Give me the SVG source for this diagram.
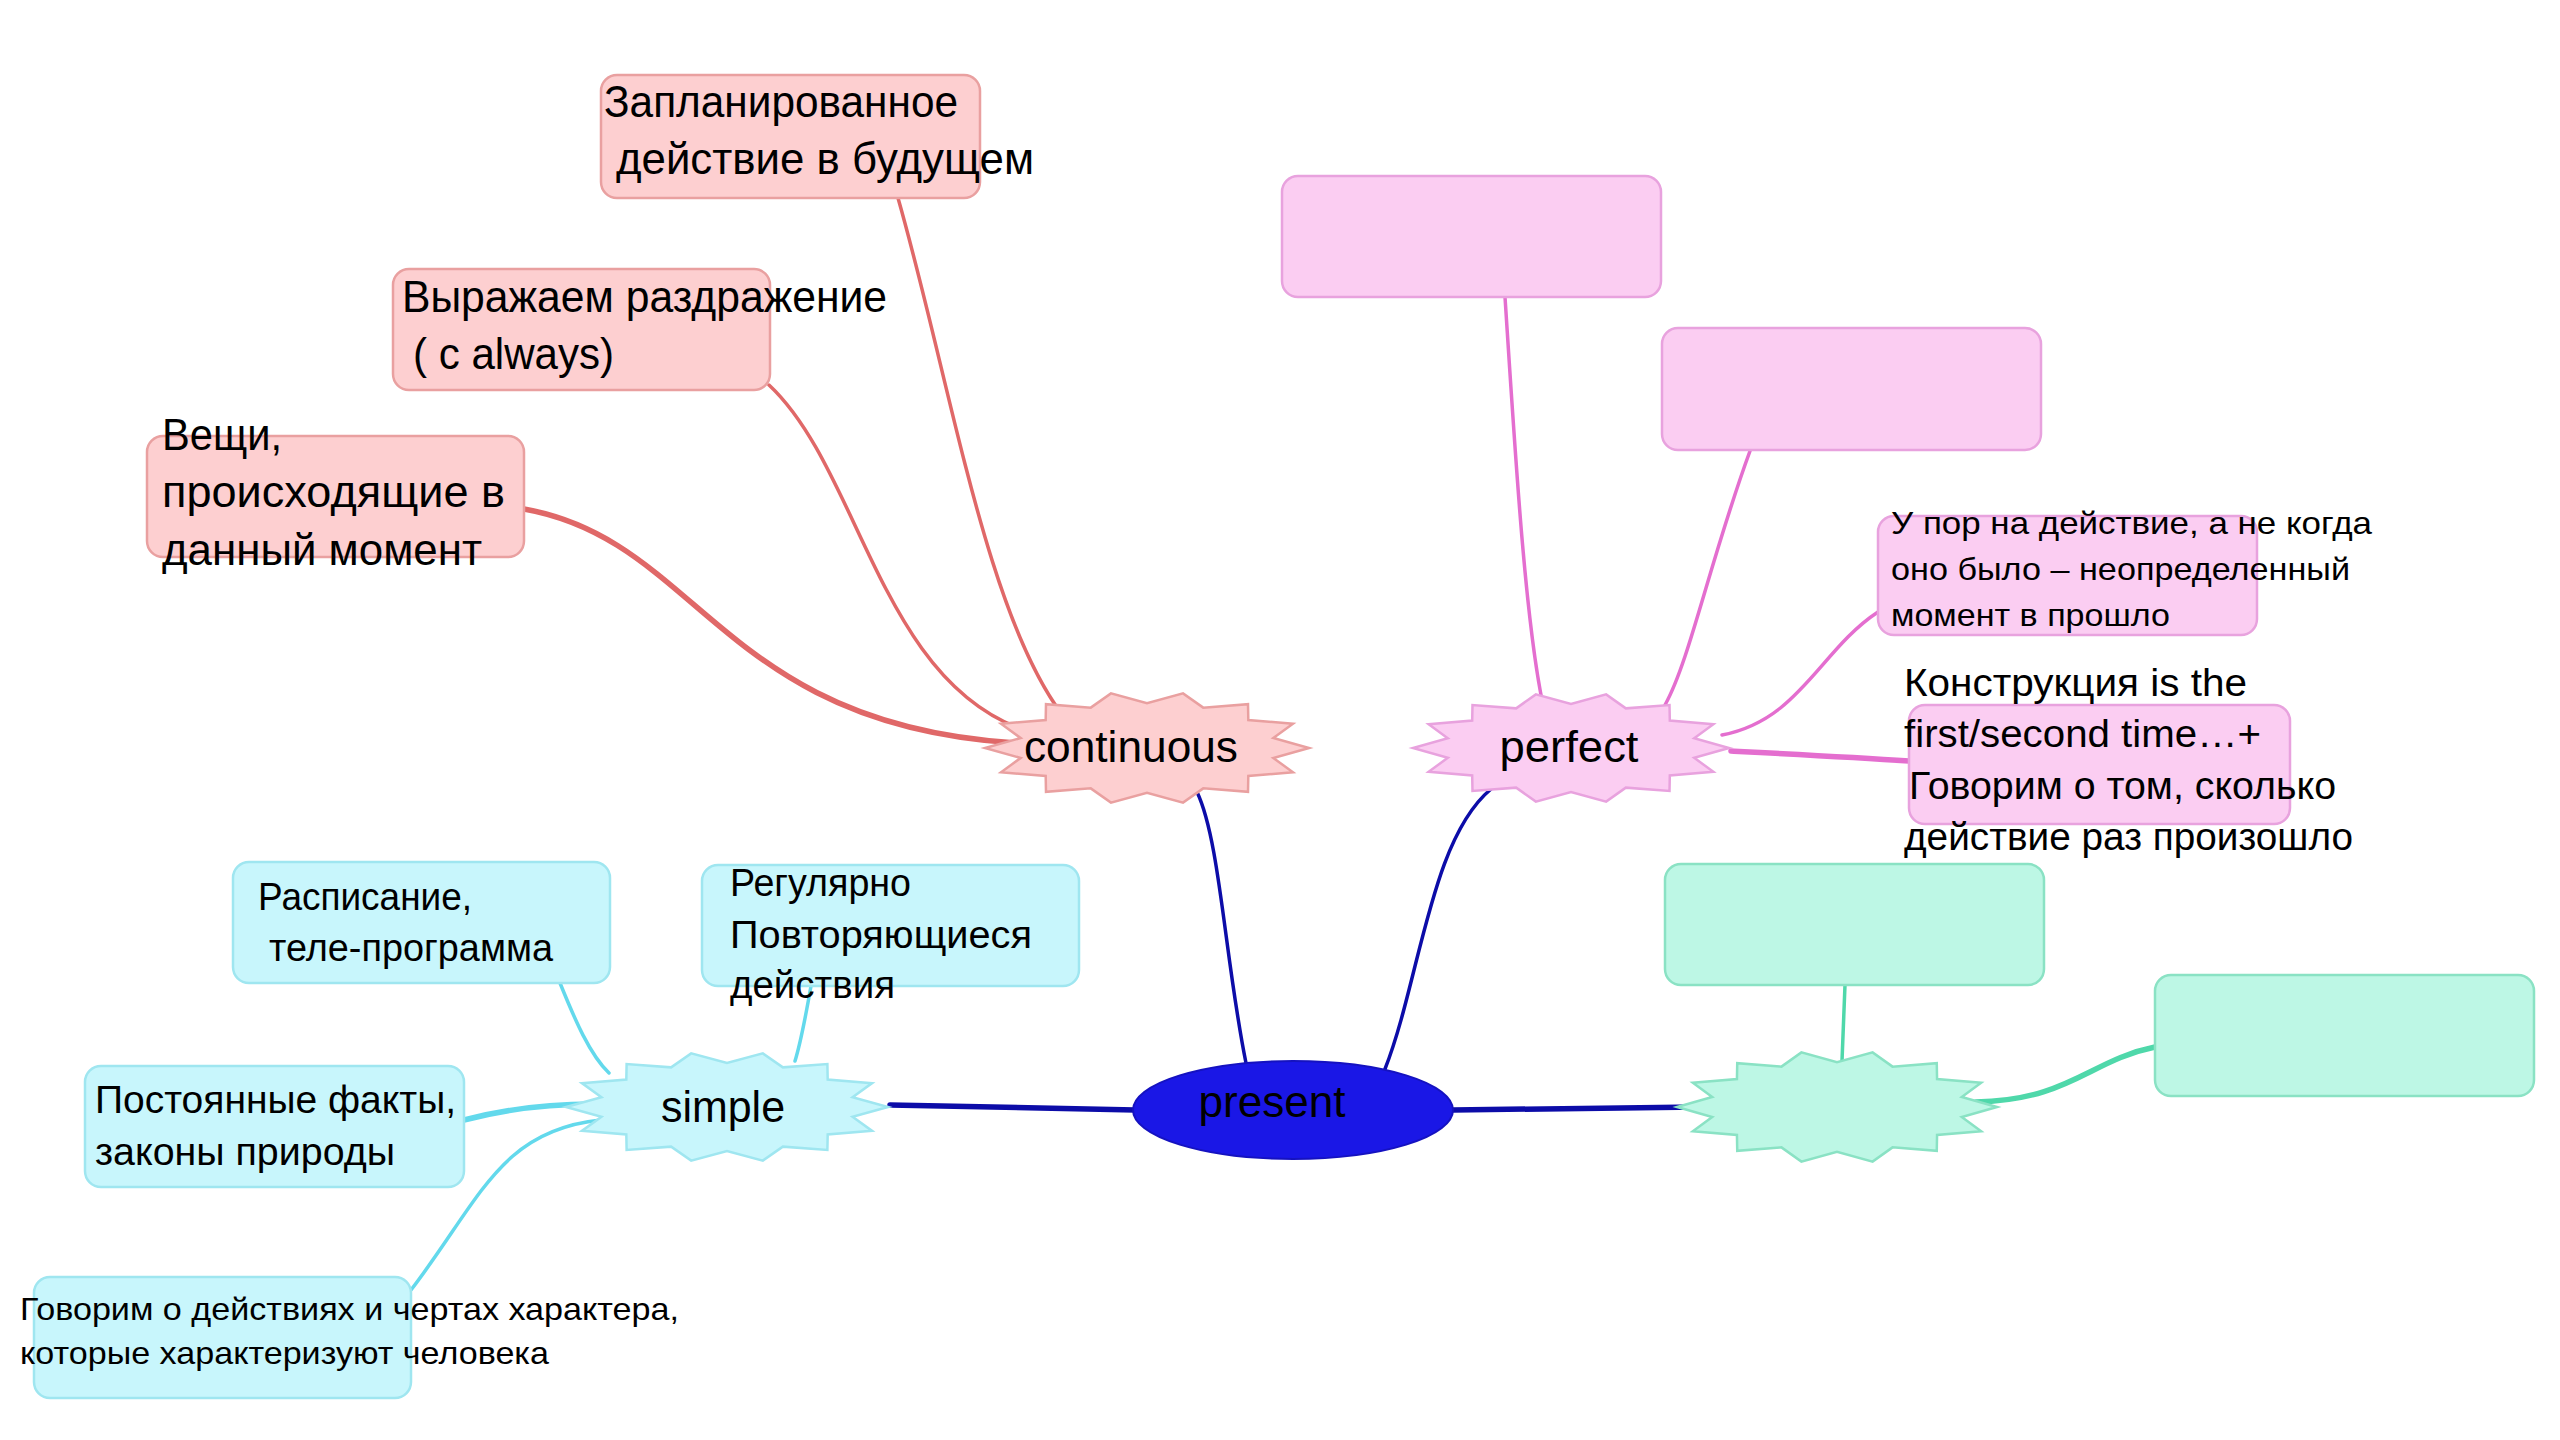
<svg xmlns="http://www.w3.org/2000/svg" xmlns:xlink="http://www.w3.org/1999/xlink" width="2560" height="1440" viewBox="0 0 2560 1440">
<style>
text{font-family:"Liberation Sans","DejaVu Sans",sans-serif;fill:#000}
.t44{font-size:44px}
.t38{font-size:38px}
.t32{font-size:32px}
.lbl{font-size:44px;text-anchor:middle}
.c{fill:none;stroke-linecap:round}
.cp{stroke:#e06868;stroke-width:3.5}
.cm{stroke:#e46ecf;stroke-width:3.5}
.cb{stroke:#0c0ca8;stroke-width:3.5}
.cc{stroke:#63d9ec;stroke-width:3.5}
.cg{stroke:#4fd8aa;stroke-width:3.5}
.thick{stroke-width:5.5}
.bp{fill:#fdcfd0;stroke:#e9a0a0;stroke-width:2.5}
.bm{fill:#fbcdf2;stroke:#e8a2de;stroke-width:2.5}
.bc{fill:#c8f6fc;stroke:#9fe6f0;stroke-width:2.5}
.bg{fill:#bdf7e5;stroke:#8ae2c4;stroke-width:2.5}
</style>
<defs>
<polygon id="star" vector-effect="non-scaling-stroke" points="1,0 0.7799,0.1780 0.9010,0.4339 0.6254,0.4988 0.6235,0.7818 0.3471,0.7208 0.2225,0.9749 0,0.8 -0.2225,0.9749 -0.3471,0.7208 -0.6235,0.7818 -0.6254,0.4988 -0.9010,0.4339 -0.7799,0.1780 -1,0 -0.7799,-0.1780 -0.9010,-0.4339 -0.6254,-0.4988 -0.6235,-0.7818 -0.3471,-0.7208 -0.2225,-0.9749 0,-0.8 0.2225,-0.9749 0.3471,-0.7208 0.6235,-0.7818 0.6254,-0.4988 0.9010,-0.4339 0.7799,-0.1780"/>
</defs>
<rect width="2560" height="1440" fill="#fff"/>
<g id="connectors">
<path class="c cp" d="M898,198 C950,380 985,610 1061,713"/>
<path class="c cp" d="M769,385 C860,470 880,680 1024,730"/>
<path class="c cp thick" d="M524,509 C700,540 720,725 1016,743"/>
<path class="c cm" d="M1505,297 C1515,450 1525,620 1543,705"/>
<path class="c cm" d="M1750,451 C1710,560 1690,660 1665,705"/>
<path class="c cm" d="M1878,612 C1820,650 1800,720 1722,735"/>
<path class="c cm thick" d="M1909,761 C1850,757 1790,754 1731,751"/>
<path class="c cb" d="M1246,1063 C1225,960 1220,840 1197,792"/>
<path class="c cb" d="M1385,1069 C1420,980 1430,840 1491,789"/>
<path class="c cb thick" d="M1135,1110 C1050,1108 970,1106 890,1105"/>
<path class="c cb thick" d="M1453,1110 C1540,1109 1620,1108 1698,1107"/>
<path class="c cc" d="M560,983 C575,1020 590,1055 609,1073"/>
<path class="c cc" d="M811,986 C805,1020 800,1045 795,1061"/>
<path class="c cc thick" d="M464,1120 C510,1108 550,1104 593,1104"/>
<path class="c cc" d="M411,1290 C480,1200 500,1130 601,1120"/>
<path class="c cg" d="M1845,985 L1842,1061"/>
<path class="c cg thick" d="M2155,1047 C2090,1060 2070,1100 1976,1102"/>
</g>
<g id="present">
<ellipse cx="1293" cy="1110" rx="160" ry="49" fill="#1a17e6" stroke="#1512c0" stroke-width="2"/>
<text class="lbl" x="1272" y="1117" textLength="147" lengthAdjust="spacingAndGlyphs">present</text>
</g>
<g id="continuous">
<use xlink:href="#star" class="bp" transform="translate(1147,748) scale(162,56)"/>
<text class="lbl" x="1131" y="762" textLength="214" lengthAdjust="spacingAndGlyphs">continuous</text>
</g>
<g id="perfect">
<use xlink:href="#star" class="bm" transform="translate(1571,748) scale(158,55)"/>
<text class="lbl" x="1569" y="762" textLength="139" lengthAdjust="spacingAndGlyphs">perfect</text>
</g>
<g id="simple">
<use xlink:href="#star" class="bc" transform="translate(727,1107) scale(161,55)"/>
<text class="lbl" x="723" y="1122" textLength="124" lengthAdjust="spacingAndGlyphs">simple</text>
</g>
<g id="future">
<use xlink:href="#star" class="bg" transform="translate(1837,1107) scale(160,56)"/>
</g>
<g id="node-planned">
<rect class="bp" x="601" y="75" width="379" height="123" rx="16"/>
<text class="t44" x="604" y="117" textLength="354" lengthAdjust="spacingAndGlyphs">Запланированное</text>
<text class="t44" x="616" y="174" textLength="418" lengthAdjust="spacingAndGlyphs">действие в будущем</text>
</g>
<g id="node-irritation">
<rect class="bp" x="393" y="269" width="377" height="121" rx="16"/>
<text class="t44" x="402" y="312" textLength="485" lengthAdjust="spacingAndGlyphs">Выражаем раздражение</text>
<text class="t44" x="413" y="369" textLength="201" lengthAdjust="spacingAndGlyphs">( с always)</text>
</g>
<g id="node-now">
<rect class="bp" x="147" y="436" width="377" height="121" rx="16"/>
<text class="t44" x="162" y="450" textLength="120" lengthAdjust="spacingAndGlyphs">Вещи,</text>
<text class="t44" x="162" y="507" textLength="343" lengthAdjust="spacingAndGlyphs">происходящие в</text>
<text class="t44" x="162" y="565" textLength="320" lengthAdjust="spacingAndGlyphs">данный момент</text>
</g>
<g id="node-perfect-1">
<rect class="bm" x="1282" y="176" width="379" height="121" rx="16"/>
</g>
<g id="node-perfect-2">
<rect class="bm" x="1662" y="328" width="379" height="122" rx="16"/>
</g>
<g id="node-perfect-3">
<rect class="bm" x="1878" y="516" width="379" height="119" rx="16"/>
<text class="t32" x="1891" y="534" textLength="481" lengthAdjust="spacingAndGlyphs">У пор на действие, а не  когда</text>
<text class="t32" x="1891" y="580" textLength="459" lengthAdjust="spacingAndGlyphs">оно было – неопределенный</text>
<text class="t32" x="1891" y="626" textLength="279" lengthAdjust="spacingAndGlyphs">момент в прошло</text>
</g>
<g id="node-perfect-4">
<rect class="bm" x="1909" y="705" width="381" height="119" rx="16"/>
<text class="t38" x="1904" y="696" textLength="343" lengthAdjust="spacingAndGlyphs">Конструкция is the</text>
<text class="t38" x="1904" y="747" textLength="357" lengthAdjust="spacingAndGlyphs">first/second time…+</text>
<text class="t38" x="1909" y="799" textLength="427" lengthAdjust="spacingAndGlyphs">Говорим о том, сколько</text>
<text class="t38" x="1904" y="850" textLength="449" lengthAdjust="spacingAndGlyphs">действие раз произошло</text>
</g>
<g id="node-schedule">
<rect class="bc" x="233" y="862" width="377" height="121" rx="16"/>
<text class="t38" x="258" y="910" textLength="214" lengthAdjust="spacingAndGlyphs">Расписание,</text>
<text class="t38" x="269" y="961" textLength="284" lengthAdjust="spacingAndGlyphs">теле-программа</text>
</g>
<g id="node-regular">
<rect class="bc" x="702" y="865" width="377" height="121" rx="16"/>
<text class="t38" x="730" y="896" textLength="181" lengthAdjust="spacingAndGlyphs">Регулярно</text>
<text class="t38" x="730" y="948" textLength="302" lengthAdjust="spacingAndGlyphs">Повторяющиеся</text>
<text class="t38" x="730" y="998" textLength="165" lengthAdjust="spacingAndGlyphs">действия</text>
</g>
<g id="node-facts">
<rect class="bc" x="85" y="1066" width="379" height="121" rx="16"/>
<text class="t38" x="95" y="1113" textLength="361" lengthAdjust="spacingAndGlyphs">Постоянные факты,</text>
<text class="t38" x="95" y="1165" textLength="300" lengthAdjust="spacingAndGlyphs">законы природы</text>
</g>
<g id="node-character">
<rect class="bc" x="34" y="1277" width="377" height="121" rx="16"/>
<text class="t32" x="20" y="1320" textLength="659" lengthAdjust="spacingAndGlyphs">Говорим о действиях и чертах характера,</text>
<text class="t32" x="20" y="1364" textLength="529" lengthAdjust="spacingAndGlyphs">которые характеризуют человека</text>
</g>
<g id="node-green-1">
<rect class="bg" x="1665" y="864" width="379" height="121" rx="16"/>
</g>
<g id="node-green-2">
<rect class="bg" x="2155" y="975" width="379" height="121" rx="16"/>
</g>
</svg>
